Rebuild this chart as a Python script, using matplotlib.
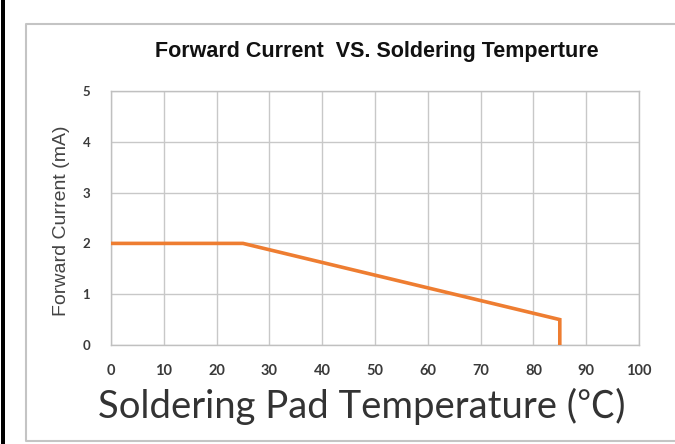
import matplotlib.pyplot as plt
from matplotlib.lines import Line2D
from matplotlib.patches import Rectangle

# data
temp = [0, 25, 85, 85]
current = [2, 2, 0.5, 0]
x_ticks = [0, 10, 20, 30, 40, 50, 60, 70, 80, 90, 100]
y_ticks = [0, 1, 2, 3, 4, 5]

W, H = 675, 444
fig = plt.figure(figsize=(W / 100, H / 100), dpi=100)
fig.patch.set_facecolor('white')

# outer light frame (open on the right) and black left edge
left, top, bottom = 26 / W, 1 - 24 / H, 1 - 441 / H
fig.lines.append(Line2D([1.0, left, left, 1.0], [top, top, bottom, bottom],
                        transform=fig.transFigure, color='#c4c4c4', linewidth=1.5))
fig.patches.append(Rectangle((1 / W, 0), 4 / W, 1, transform=fig.transFigure,
                             facecolor='black', edgecolor='none'))

ax = fig.add_axes([111 / W, 99 / H, 528 / W, 254 / H])
ax.plot(temp, current, color='#ee7d31', linewidth=2.6, solid_joinstyle='miter', zorder=3)

ax.set_xlim(0, 100)
ax.set_ylim(0, 5)
ax.set_xticks(x_ticks)
ax.set_yticks(y_ticks)
ax.grid(True, color='#c8c8c8', linewidth=1.0)
ax.set_axisbelow(True)
for s in ax.spines.values():
    s.set_color('#c0c0c0')
    s.set_linewidth(1.0)
ax.tick_params(length=0)
ax.tick_params(axis='x', pad=14, labelsize=10.5, labelcolor='#3a3a3a')
ax.tick_params(axis='y', pad=15, labelsize=9.5, labelcolor='#3a3a3a')
for lb in ax.get_xticklabels() + ax.get_yticklabels():
    lb.set_family('Lato')
    lb.set_fontweight('bold')

fig.text(377 / W, 1 - 52 / H, 'Forward Current  VS. Soldering Temperture',
         ha='center', va='center', fontsize=15.5, fontweight='bold',
         family='Liberation Sans', color='#111111')
fig.text(62 / W, 1 - 221 / H, 'Forward Current (mA)', rotation=90,
         ha='center', va='center', fontsize=14, family='Liberation Sans', color='#444444')
fig.text(362 / W, 1 - 406 / H, 'Soldering Pad Temperature (\u2103)',
         ha='center', va='center', fontsize=27.5,
         family=['Lato', 'Noto Sans CJK SC', 'DejaVu Sans'], color='#333333')

fig.savefig('out.png', dpi=100)
